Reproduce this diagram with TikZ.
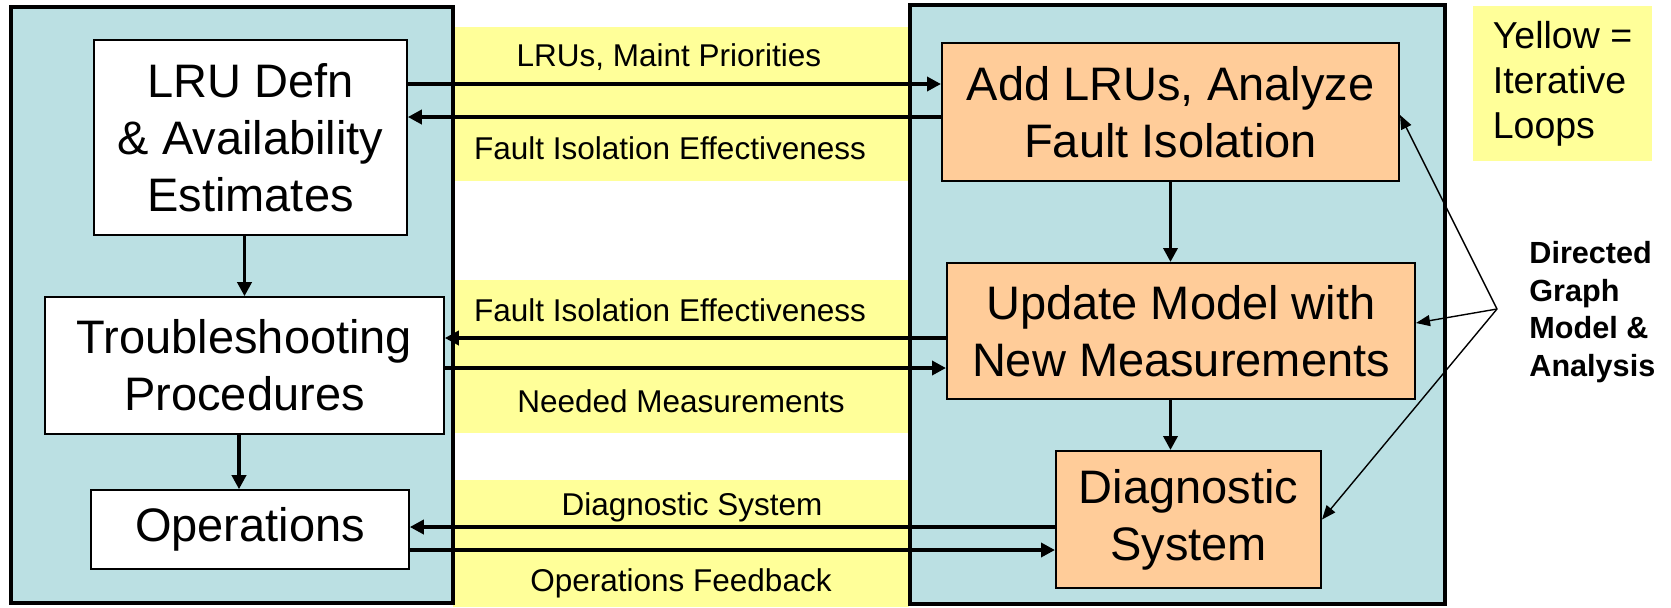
\documentclass[tikz,border=0pt]{standalone}
\usepackage{fontspec}
\setmainfont{Liberation Sans}
\usepackage{tikz}
\usetikzlibrary{arrows.meta}

\definecolor{panelblue}{RGB}{187,224,227}
\definecolor{loopyellow}{RGB}{255,255,153}
\definecolor{boxorange}{RGB}{255,204,153}

\begin{document}
\begin{tikzpicture}[x=0.5pt, y=-0.5pt,
        every node/.style={font=\fontsize{15.75}{19}\selectfont},
        bigbox/.style={draw, line width=0.8pt, align=center, inner sep=0pt, font=\fontsize{23.5}{28.5}\selectfont},
        whitebox/.style={bigbox, fill=white},
        orangebox/.style={bigbox, fill=boxorange, line width=1pt},
        conn/.style={line width=1.75pt, -{Triangle[length=7pt,width=7pt]}},
        pointer/.style={line width=0.7pt, -{Triangle[length=7pt,width=5.5pt]}}]
    \useasboundingbox (0,0) rectangle (1671,607);
    % yellow bands = iterative loops
    \fill[loopyellow] (453,27) rectangle (909,181);
    \fill[loopyellow] (453,280) rectangle (909,433);
    \fill[loopyellow] (453,480) rectangle (909,607);
    % the two panels
    \draw[fill=panelblue, line width=2pt] (11,7) rectangle (453,603);
    \draw[fill=panelblue, line width=2pt] (910,5) rectangle (1445,604);
    % left side
    \node[whitebox, minimum width=156.5pt, minimum height=97.5pt] (lru) at (250.5,137.5) {LRU Defn\\\& Availability\\Estimates};
    \node[whitebox, minimum width=199.5pt, minimum height=68.5pt] (trouble) at (244.5,365.5) {Troubleshooting\\Procedures};
    \node[whitebox, minimum width=159pt, minimum height=39.5pt] (ops) at (250,529.5) {Operations};
    % right side
    \node[orangebox, minimum width=228.5pt, minimum height=69pt] (add) at (1170.5,112) {Add LRUs, Analyze\\Fault Isolation};
    \node[orangebox, minimum width=234pt, minimum height=68pt] (upd) at (1181,331) {Update Model with\\New Measurements};
    \node[orangebox, minimum width=132.5pt, minimum height=68.5pt] (diag) at (1188.5,519.5) {Diagnostic\\System};
    % loop labels
    \node (lblA) at (669,57) {LRUs, Maint Priorities};
    \node (lblB) at (670,148) {Fault Isolation Effectiveness};
    \node (lblC) at (670,310) {Fault Isolation Effectiveness};
    \node (lblD) at (681,401) {Needed Measurements};
    \node (lblE) at (692,507) {Diagnostic System};
    \node (lblF) at (681,583) {Operations Feedback};
    % legend and note
    \node[fill=loopyellow, minimum width=89.5pt, minimum height=77.5pt, align=left, font=\fontsize{18.75}{22.5}\selectfont] (legend) at (1562.5,83.5) {Yellow =\\Iterative\\Loops};
    \node[anchor=west, align=left, inner sep=0pt, font=\bfseries\fontsize{15.3}{18.75}\selectfont] (dgm) at (1529,312) {Directed\\Graph\\Model \&\\Analysis};
    \coordinate (dg) at (1497,309);
    % connectors
    \draw[conn] (lru.east |- 0,84) -- (add.west |- 0,84);
    \draw[conn] (add.west |- 0,117) -- (lru.east |- 0,117);
    \draw[conn] (upd.west |- 0,338) -- (trouble.east |- 0,338);
    \draw[conn] (trouble.east |- 0,368) -- (upd.west |- 0,368);
    \draw[conn] (diag.west |- 0,527) -- (ops.east |- 0,527);
    \draw[conn] (ops.east |- 0,550) -- (diag.west |- 0,550);
    \draw[conn] (lru.south -| trouble.north) -- (trouble.north);
    \draw[conn] (trouble.south -| 239,0) -- (ops.north -| 239,0);
    \draw[conn] (add.south) -- (upd.north -| add.south);
    \draw[conn] (upd.south -| add.south) -- (diag.north -| add.south);
    \draw[pointer] (dg) -- (add.east |- 0,115);
    \draw[pointer] (dg) -- (upd.east |- 0,323);
    \draw[pointer] (dg) -- (diag.east);
\end{tikzpicture}
\end{document}
